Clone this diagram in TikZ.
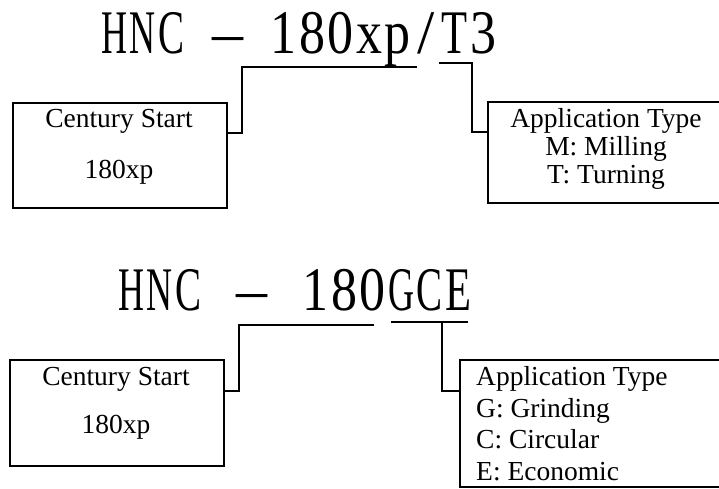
\documentclass[tikz,border=0pt]{standalone}
\usepackage{fontspec}
\setmainfont{Liberation Serif}
\usepackage{graphicx}
\usepackage{tikz}
\usetikzlibrary{positioning}
\tikzset{
  typebox/.style={rectangle,draw,line width=1.6pt,inner sep=0pt,anchor=north west},
  codetext/.style={inner sep=0pt,anchor=base west,font=\fontsize{62}{62}\selectfont},
  dashtext/.style={codetext,anchor=base},
  boxtext/.style={inner sep=0pt,anchor=base,font=\fontsize{27.5}{28}\selectfont},
  listtext/.style={boxtext,anchor=base west},
  link/.style={line width=1.6pt}
}
% fixed-width, narrow glyphs for the model code
\newsavebox\monobox
\newcommand\monoglyph[1]{\sbox\monobox{#1}%
  \ifdim\wd\monobox>26pt \scalebox{\fpeval{26/(\the\wd\monobox)*1pt}}[1]{#1}\else #1\fi}
\newcommand\mono[1]{\monoloop#1\relax}
\newcommand\monoloop[1]{\ifx\relax#1\else\makebox[28.5pt]{\monoglyph{#1}}\expandafter\monoloop\fi}

\begin{document}
\begin{tikzpicture}[x=1pt,y=-1pt]
  \useasboundingbox (0,0) rectangle (719,488);

  % First model code
  \node[codetext] (hncA) at (100,53) {\mono{HNC}};
  \node[dashtext] (dashA) at (228,53) {–};
  \node[codetext] (codeA) at (269.5,53) {\mono{180xp/T3}};

  \node[typebox,minimum width=214pt,minimum height=105pt] (startA) at (12,102) {};
  \node[typebox,minimum width=240pt,minimum height=101pt] (appA) at (487,101) {};
  \node[boxtext] (startAname) at (119,127) {Century Start};
  \node[boxtext] (startAval) at (119,178) {180xp};
  \foreach \txt [count=\i] in {Application Type,M: Milling,T: Turning}
    \node[boxtext] (appAline\i) at (606,127+28*\i-28) {\txt};

  \coordinate (ulAend) at (417,67);
  \coordinate (ulAbend) at (242,67);
  \coordinate (ulTstart) at (439,63);
  \coordinate (ulTbend) at (472,63);
  \draw[link] (ulAend) -- (ulAbend) |- ([yshift=-31pt]startA.north east);
  \draw[link] (ulTstart) -- (ulTbend) |- ([yshift=-31pt]appA.north west);

  % Second model code
  \node[codetext] (hncB) at (117,310) {\mono{HNC}};
  \node[dashtext] (dashB) at (252,310) {–};
  \node[codetext] (codeB) at (301.5,310) {\mono{180GCE}};

  \node[typebox,minimum width=214pt,minimum height=106pt] (startB) at (9,359) {};
  \node[typebox,minimum width=271pt,minimum height=127pt] (appB) at (459,359) {};
  \node[boxtext] (startBname) at (116,385) {Century Start};
  \node[boxtext] (startBval) at (116,433) {180xp};
  \foreach \txt/\yy [count=\i] in {Application Type/385,G: Grinding/417,C: Circular/448,E: Economic/480}
    \node[listtext] (appBline\i) at (476,\yy) {\txt};

  \coordinate (ulBend) at (374,325);
  \coordinate (ulBbend) at (239,325);
  \coordinate (ulGstart) at (391,322);
  \coordinate (ulGend) at (468,322);
  \coordinate (ulGtee) at (442,322);
  \draw[link] (ulBend) -- (ulBbend) |- ([yshift=-32pt]startB.north east);
  \draw[link] (ulGstart) -- (ulGend);
  \draw[link] (ulGtee) |- ([yshift=-32pt]appB.north west);
\end{tikzpicture}
\end{document}
